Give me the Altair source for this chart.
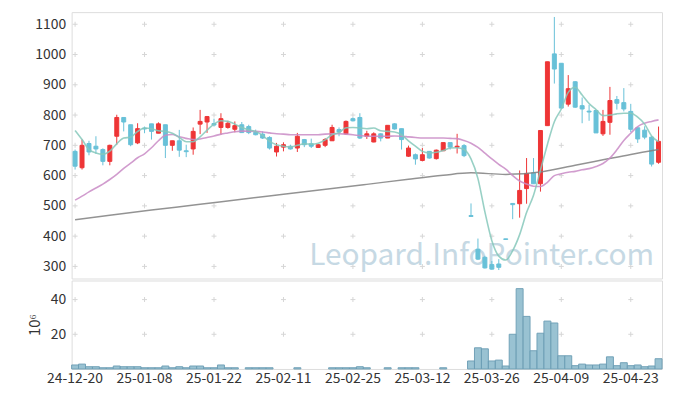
import altair as alt
import pandas as pd

FONT = "Noto Sans CJK KR"

dates = [
    "24-12-20", "24-12-23", "24-12-24", "24-12-26", "24-12-27", "24-12-30",
    "25-01-02", "25-01-03", "25-01-06", "25-01-07", "25-01-08", "25-01-09", "25-01-10",
    "25-01-13", "25-01-14", "25-01-15", "25-01-16", "25-01-17", "25-01-20", "25-01-21",
    "25-01-22", "25-01-23", "25-01-24", "25-01-31", "25-02-03", "25-02-04", "25-02-05",
    "25-02-06", "25-02-07", "25-02-10", "25-02-11", "25-02-12", "25-02-13", "25-02-14",
    "25-02-17", "25-02-18", "25-02-19", "25-02-20", "25-02-21", "25-02-24", "25-02-25",
    "25-02-26", "25-02-27", "25-02-28", "25-03-04", "25-03-05", "25-03-06", "25-03-07",
    "25-03-10", "25-03-11", "25-03-12", "25-03-13", "25-03-14", "25-03-17", "25-03-18",
    "25-03-19", "25-03-20", "25-03-21", "25-03-24", "25-03-25", "25-03-26", "25-03-27",
    "25-03-28", "25-03-31", "25-04-01", "25-04-02", "25-04-03", "25-04-04", "25-04-07",
    "25-04-08", "25-04-09", "25-04-10", "25-04-11", "25-04-14", "25-04-15", "25-04-16",
    "25-04-17", "25-04-18", "25-04-21", "25-04-22", "25-04-23", "25-04-24", "25-04-25",
    "25-04-28", "25-04-29",
]

opens = [680, 626, 706, 697, 686, 647, 730, 792, 768, 708, 757, 771, 740, 768, 700, 715, 682,
         688, 770, 777, 772, 759, 759, 753, 768, 762, 743, 737, 726, 678, 694, 697, 691, 719,
         705, 693, 700, 715, 752, 738, 788, 792, 730, 711, 738, 724, 771, 755, 664, 669, 650,
         680, 656, 682, 709, 694, 699, 468, 357, 330, 306, 308, 391, 508, 507, 557, 609, 573,
         765, 1002, 971, 836, 910, 831, 813, 815, 738, 776, 851, 841, 812, 758, 750, 727, 644]
highs = [686, 719, 715, 730, 690, 702, 801, 792, 768, 773, 762, 771, 776, 768, 715, 751, 702,
         759, 817, 797, 788, 806, 781, 779, 777, 768, 752, 746, 730, 708, 710, 702, 741, 721,
         722, 704, 724, 768, 759, 782, 792, 806, 748, 743, 740, 766, 773, 755, 699, 673, 691,
         680, 686, 709, 709, 738, 704, 508, 392, 335, 318, 324, 391, 508, 617, 658, 658, 749,
         976, 1124, 971, 932, 912, 858, 834, 815, 817, 893, 863, 889, 837, 758, 763, 730, 762]
lows = [620, 620, 667, 672, 634, 634, 702, 746, 697, 704, 740, 719, 740, 658, 682, 662, 661,
        669, 737, 741, 762, 735, 755, 743, 742, 737, 733, 721, 686, 663, 680, 686, 678, 694,
        691, 691, 694, 715, 730, 735, 779, 721, 721, 710, 713, 724, 752, 686, 662, 636, 647,
        656, 653, 682, 686, 673, 661, 465, 321, 293, 289, 288, 388, 456, 461, 507, 573, 547,
        765, 904, 823, 828, 824, 773, 781, 741, 731, 735, 818, 812, 744, 708, 720, 630, 639]
closes = [631, 700, 678, 688, 647, 700, 792, 777, 702, 755, 754, 746, 771, 700, 715, 684, 679,
          746, 779, 795, 767, 788, 773, 765, 742, 742, 735, 724, 691, 697, 702, 688, 730, 702,
          697, 702, 719, 759, 744, 779, 781, 724, 738, 738, 724, 766, 754, 719, 691, 655, 669,
          658, 684, 709, 694, 697, 666, 465, 324, 295, 291, 297, 389, 504, 551, 607, 573, 749,
          976, 952, 823, 887, 826, 820, 810, 741, 779, 848, 839, 820, 753, 721, 727, 638, 713]

# volume in millions
volumes = [2.3, 2.8, 1.3, 1.3, 0.7, 0.7, 1.7, 1.3, 1.3, 1.3, 0.7, 0.7, 0.7, 1.7, 0.7, 1.3, 0.7,
           1.7, 1.7, 0.7, 0.7, 2.3, 0.7, 0.7, 0.1, 0.7, 0.7, 0.7, 0.7, 0.1, 0.1, 0.1, 0.7, 0.1,
           0.1, 0.1, 0.1, 0.7, 0.7, 0.7, 0.7, 1.3, 0.7, 0.1, 0.1, 0.7, 0.1, 0.7, 0.7, 0.7, 0.1,
           0.1, 0.1, 0.7, 0.1, 0.1, 0.1, 4.6, 12.2, 11.6, 4.6, 5.1, 1.7, 20.0, 46.3, 30.3, 10.5,
           20.6, 27.6, 26.5, 7.6, 7.6, 1.9, 2.8, 2.3, 2.3, 2.8, 7.0, 1.9, 3.6, 1.9, 2.3, 1.3, 1.7,
           5.9]

ma5 = [749, 719, 686, 675, 671, 681, 705, 724, 727, 746, 757, 755, 748, 746, 740, 726, 712,
       712, 728, 750, 770, 781, 779, 770, 759, 751, 746, 733, 713, 702, 697, 695, 700, 705,
       704, 707, 718, 735, 742, 758, 759, 757, 755, 757, 748, 746, 744, 735, 715, 697, 680,
       675, 677, 683, 691, 692, 686, 655, 590, 480, 385, 334, 321, 352, 405, 478, 535, 618,
       703, 778, 820, 875, 892, 866, 838, 818, 798, 800, 804, 806, 806, 793, 770, 731, 712]

ma20 = [519, 532, 546, 559, 572, 587, 604, 624, 641, 659, 672, 692, 715, 733, 736, 728, 723,
        719, 721, 726, 731, 737, 741, 745, 747, 747, 746, 744, 741, 738, 737, 735, 735, 735,
        735, 735, 737, 738, 738, 737, 735, 732, 730, 730, 730, 730, 731, 730, 728, 726, 724,
        724, 724, 724, 723, 722, 716, 707, 693, 674, 655, 637, 621, 600, 582, 572, 565, 564,
        578, 600, 606, 611, 614, 619, 623, 630, 640, 658, 685, 716, 740, 762, 773, 779, 784]

ma_long_dates = ["24-12-20", "24-12-30", "25-01-09", "25-01-20", "25-02-03", "25-02-11",
                 "25-02-20", "25-02-27", "25-03-10", "25-03-17", "25-03-21", "25-03-28",
                 "25-04-04", "25-04-11", "25-04-17", "25-04-23", "25-04-29"]
ma_long = [454, 469, 486, 505, 522, 538, 557, 571, 588, 601, 609, 604, 612, 634, 652, 670, 686]

x_labels = ["24-12-20", "25-01-08", "25-01-22", "25-02-11", "25-02-25", "25-03-12",
            "25-03-26", "25-04-09", "25-04-23"]
price_ticks = [300, 400, 500, 600, 700, 800, 900, 1000, 1100]
volume_ticks = [20, 40]
watermark = "Leopard.InfoPointer.com"

RED = "#ee3536"
BLUE = "#68c1d8"
TEAL = "#86c8bb"
PINK = "#c98bc6"
GRAY = "#808080"
LABEL = "#333333"
GRID = "#d6d6d6"

df = pd.DataFrame({"date": dates, "open": opens, "high": highs, "low": lows,
                   "close": closes, "volume": volumes, "ma5": ma5, "ma20": ma20})
df["dir"] = ["up" if c >= o else "down" for o, c in zip(opens, closes)]
long_df = pd.DataFrame({"date": ma_long_dates, "ma": ma_long})
grid_main = pd.DataFrame([(d, v) for d in x_labels for v in price_ticks], columns=["date", "v"])
grid_vol = pd.DataFrame([(d, v) for d in x_labels for v in volume_ticks], columns=["date", "v"])

xscale = alt.Scale(domain=dates, paddingInner=0, paddingOuter=0)
x_main = alt.X("date:O", scale=xscale, axis=None, title=None)
yscale = alt.Scale(domain=[260, 1140], nice=False, zero=False)
yaxis = alt.Axis(values=price_ticks, labelPadding=6, ticks=False, domain=False, grid=False,
                 labelFontSize=14, labelColor=LABEL, labelFont=FONT, format="d",
                 labelOverlap=False, title=None)
cmap = alt.Scale(domain=["up", "down"], range=[RED, BLUE])
color = alt.Color("dir:N", scale=cmap, legend=None)


def ym(field):
    return alt.Y(field, scale=yscale, axis=yaxis, title=None)


# grid crosses drawn as short horizontal + vertical ticks
g1h = alt.Chart(grid_main).mark_tick(orient="horizontal", size=5, thickness=1, color=GRID,
                                     opacity=1).encode(x=x_main, y=ym("v:Q"))
g1v = alt.Chart(grid_main).mark_tick(orient="vertical", size=5, thickness=1, color=GRID,
                                     opacity=1).encode(x=x_main, y=ym("v:Q"))

wm = alt.Chart(pd.DataFrame({"t": [watermark]})).mark_text(
    font=FONT, fontSize=30, color="#c6d9e4", align="right", baseline="alphabetic").encode(
    text="t:N", x=alt.value(586), y=alt.value(254))

wicks = alt.Chart(df).mark_rule(strokeWidth=1).encode(
    x=x_main, y=ym("low:Q"), y2="high:Q", color=color)
bodies = alt.Chart(df).mark_bar(size=4, strokeWidth=1).encode(
    x=x_main, y=ym("open:Q"), y2="close:Q", color=color,
    stroke=alt.Stroke("dir:N", scale=cmap, legend=None))

line_long = alt.Chart(long_df).mark_line(color=GRAY, strokeWidth=1.5, opacity=0.85,
                                         interpolate="monotone").encode(x=x_main, y=ym("ma:Q"))
line20 = alt.Chart(df).mark_line(color=PINK, strokeWidth=1.6, opacity=0.85,
                                 interpolate="monotone").encode(x=x_main, y=ym("ma20:Q"))
line5 = alt.Chart(df).mark_line(color=TEAL, strokeWidth=1.6, opacity=0.85,
                                interpolate="monotone").encode(x=x_main, y=ym("ma5:Q"))

main = alt.layer(g1h, g1v, wm, wicks, bodies, line_long, line20, line5).properties(
    width=594, height=268)

x_vol = alt.X("date:O", scale=xscale, title=None,
              axis=alt.Axis(values=x_labels, labelAngle=0, ticks=False, domain=False, grid=False,
                            labelPadding=3, labelFontSize=14, labelColor=LABEL, labelFont=FONT,
                            labelOverlap=False))
vscale = alt.Scale(domain=[0, 51], nice=False)
vaxis = alt.Axis(values=volume_ticks, labelPadding=6, ticks=False, domain=False, grid=False,
                 labelFontSize=14, labelColor=LABEL, labelFont=FONT, title="10⁶",
                 titleFont=FONT, titleFontSize=15, titleFontWeight="normal", titleColor=LABEL,
                 titlePadding=8, labelOverlap=False)


def yv(field):
    return alt.Y(field, scale=vscale, axis=vaxis, title="10⁶")


g2h = alt.Chart(grid_vol).mark_tick(orient="horizontal", size=5, thickness=1, color=GRID,
                                    opacity=1).encode(x=x_vol, y=yv("v:Q"))
g2v = alt.Chart(grid_vol).mark_tick(orient="vertical", size=5, thickness=1, color=GRID,
                                    opacity=1).encode(x=x_vol, y=yv("v:Q"))
vbars = alt.Chart(df).transform_filter("datum.volume > 0.3").mark_bar(
    fill="#94bfd0", stroke="#6b9db4", strokeWidth=1, opacity=0.95).encode(
    x=x_vol, y=yv("volume:Q"))

vol = alt.layer(g2h, g2v, vbars).properties(width=594, height=89)

chart = alt.vconcat(main, vol, spacing=0).properties(
    padding={"left": 18, "top": 2, "right": 2, "bottom": 0}
).configure_view(stroke="#e6e6e6", strokeWidth=1).configure(background="white")

chart.save("out.html", embed_options={"renderer": "svg", "actions": False})
